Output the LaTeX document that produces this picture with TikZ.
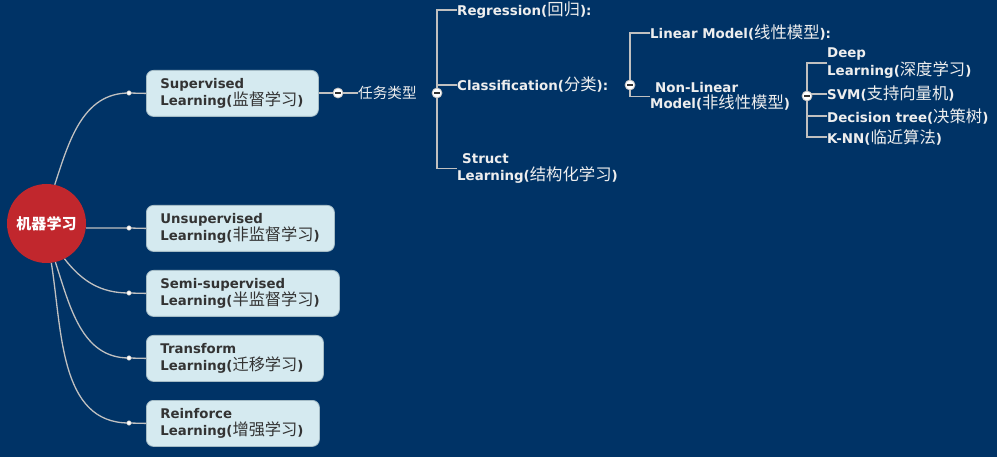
\documentclass[tikz,border=0pt]{standalone}
\usepackage{fontspec}
\setmainfont{DejaVu Sans}
\newfontfamily\cjk{Noto Sans CJK SC}[Scale=1.22]
\newcommand{\zh}[1]{{\cjk\mdseries #1}}
\definecolor{bgc}{RGB}{0,51,102}
\definecolor{redc}{RGB}{193,39,45}
\definecolor{boxfill}{RGB}{213,234,240}
\definecolor{boxline}{RGB}{165,188,198}
\definecolor{linec}{RGB}{192,192,192}
\definecolor{txtd}{RGB}{51,51,51}
\definecolor{txtw}{RGB}{238,238,238}
\tikzset{
  conn/.style={draw=linec, line width=1.3pt},
  mbox/.style={draw=boxline, fill=boxfill, line width=0.8pt, rounded corners=7pt,
    minimum height=46pt, inner xsep=14pt, inner ysep=0pt, align=left, anchor=north west,
    text=txtd, font=\fontsize{13.3}{16.5}\selectfont\bfseries},
  wtext/.style={text=txtw, inner sep=0pt, anchor=west, align=left,
    font=\fontsize{13.4}{16.5}\selectfont\bfseries},
  dotn/.style={circle, fill=white, draw=linec, line width=0.5pt, minimum size=4.5pt, inner sep=0pt},
  collapse/.style={circle, fill=white, draw=linec, line width=0.8pt, minimum size=10pt, inner sep=0pt,
    path picture={\draw[txtd, line width=1.5pt] ([xshift=-2.6pt]path picture bounding box.center) -- ([xshift=2.6pt]path picture bounding box.center);}},
}
\begin{document}
\begin{tikzpicture}[x=1pt,y=-1pt]
\fill[bgc] (0,0) rectangle (997,457);
\useasboundingbox (0,0) rectangle (997,457);

% root
\node[circle, fill=redc, minimum size=79pt, inner sep=0pt, text=white,
  font=\fontsize{12.3}{14}\selectfont\cjk\bfseries] (root) at (46.5,223.5) {机器学习};

% main boxes
\node[mbox, text width=144pt] (sup) at (146,70) {Supervised\\Learning(\zh{监督学习})};
\node[mbox, text width=160pt] (unsup) at (146,205) {Unsupervised\\Learning(\zh{非监督学习})};
\node[mbox, text width=165pt] (semi) at (146,270) {Semi-supervised\\Learning(\zh{半监督学习})};
\node[mbox, text width=149pt] (trans) at (146,335) {Transform\\Learning(\zh{迁移学习})};
\node[mbox, text width=145pt] (rein) at (146,400) {Reinforce\\Learning(\zh{增强学习})};

% dots
\coordinate (d1) at (129,93);
\coordinate (d2) at (129,228);
\coordinate (d3) at (129,293);
\coordinate (d4) at (129,358);
\coordinate (d5) at (129,423);

\draw[conn] (root.78) to[out=72,in=180] (d1) -- (sup.west);
\draw[conn] (root.east |- d2) -- (d2) -- (unsup.west);
\draw[conn] (root.-63) to[out=-52,in=180] (d3) -- (semi.west);
\draw[conn] (root.-77) to[out=-72,in=180] (d4) -- (trans.west);
\draw[conn] (root.-83) to[out=-81,in=180] (d5) -- (rein.west);

% task types
\coordinate (k1) at (338,93);
\node[text=txtw, inner sep=0pt, anchor=west, font=\fontsize{12}{14}\selectfont\cjk] (task) at (358,93) {任务类型};
\draw[conn] (sup.east |- k1) -- (k1) -- (task.west);

\coordinate (k2) at (437,93);
\node[wtext] (reg) at (457,10) {Regression(\zh{回归}):};
\node[wtext] (cls) at (457,85) {Classification(\zh{分类}):};
\node[wtext] (struct) at (457,168.5) {\hspace*{5pt}Struct\\Learning(\zh{结构化学习})};
\draw[conn] (reg.west) -| (k2) |- (struct.west);
\draw[conn] (cls.west) -- (cls.west -| k2);

% classification
\coordinate (k3) at (630,85);
\node[wtext] (lin) at (650,33) {Linear Model(\zh{线性模型}):};
\node[wtext] (nonlin) at (650,96.5) {\hspace*{5pt}Non-Linear\\Model(\zh{非线性模型})};
\draw[conn] (lin.west) -| (k3) |- (nonlin.west);

% non-linear
\coordinate (k4) at (807,96);
\node[wtext] (deep) at (827,63) {Deep\\Learning(\zh{深度学习})};
\node[wtext] (svm) at (827,94) {SVM(\zh{支持向量机})};
\node[wtext] (dtree) at (827,116) {Decision tree(\zh{决策树})};
\node[wtext] (knn) at (827,137) {K-NN(\zh{临近算法})};
\draw[conn] (deep.west) -| (k4) |- (knn.west);
\draw[conn] (svm.west) -- (svm.west -| k4);
\draw[conn] (dtree.west) -- (dtree.west -| k4);

% dots and collapse markers on top
\foreach \d in {d1,d2,d3,d4,d5} \node[dotn] (n\d) at (\d) {};
\foreach \k in {k1,k2,k3,k4} \node[collapse] (n\k) at (\k) {};
\end{tikzpicture}
\end{document}
